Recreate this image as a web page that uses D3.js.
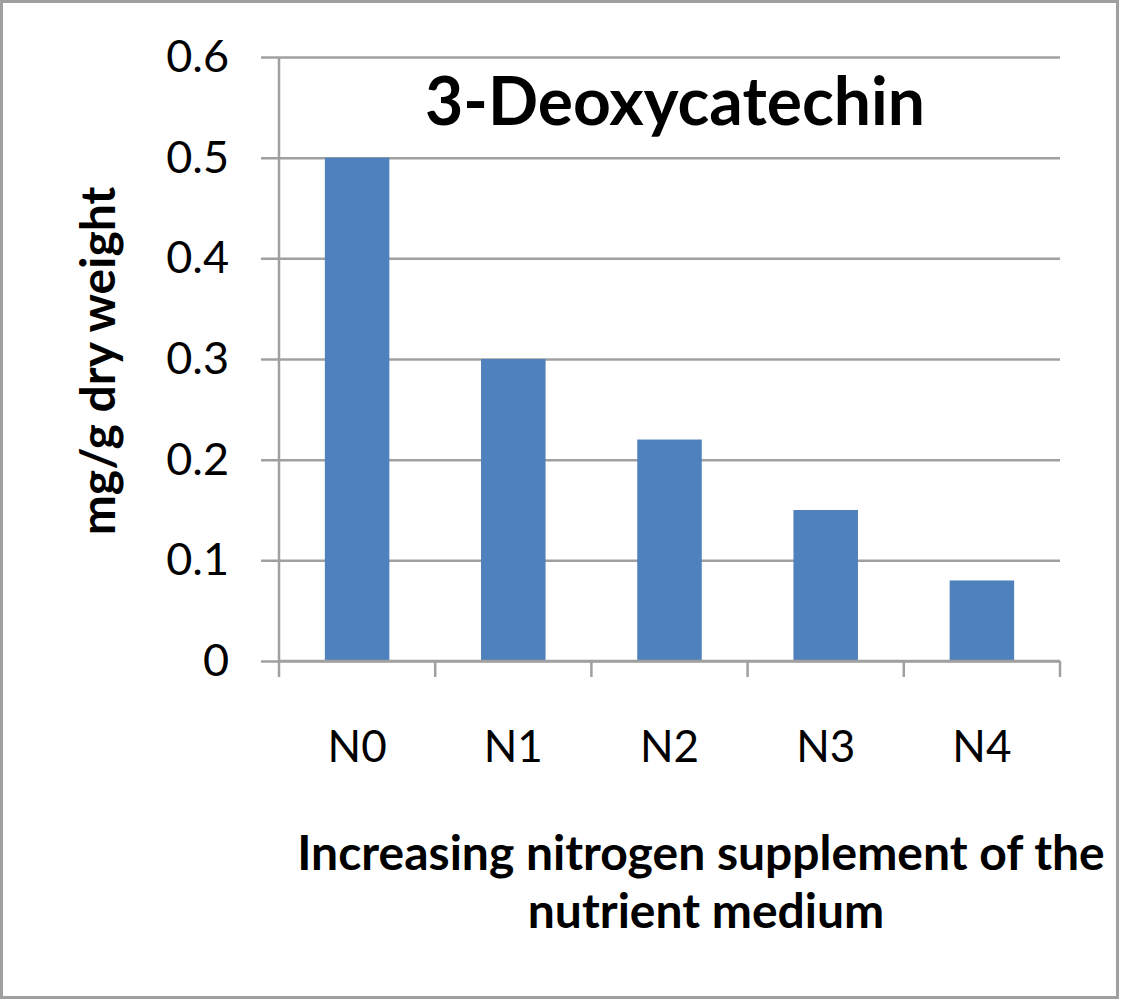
<!DOCTYPE html>
<html>
<head>
<meta charset="utf-8">
<script src="https://cdn.jsdelivr.net/npm/d3@7"></script>
<style>
  body { margin: 0; background: #fff; }
  svg { display: block; font-family: Lato, "Open Sans", sans-serif; }
</style>
</head>
<body>
<div id="chart"></div>
<script>
// chart data
const categories = ["N0", "N1", "N2", "N3", "N4"];
const values = [0.5, 0.3, 0.22, 0.15, 0.08];
const yTicks = [0, 0.1, 0.2, 0.3, 0.4, 0.5, 0.6];

const width = 1121,
  height = 1000,
  margin = { top: 57, bottom: 339, left: 279, right: 61 };

const fontFamily = "Lato, 'Open Sans', sans-serif";
const barColor = "#4f81bd",
  gridColor = "#a0a0a0";

const svg = d3.select("#chart")
  .append("svg")
  .attr("width", width)
  .attr("height", height);

// outer frame
svg.append("rect")
  .attr("x", 1.5)
  .attr("y", 1.5)
  .attr("width", width - 5)
  .attr("height", height - 4)
  .attr("fill", "#fff")
  .attr("stroke", gridColor)
  .attr("stroke-width", 3);

const xScale = d3.scaleBand()
  .domain(categories)
  .range([margin.left, width - margin.right])
  .paddingInner(0.587)
  .paddingOuter(0.2935);

const yScale = d3.scaleLinear()
  .domain([0, 0.6])
  .range([height - margin.bottom, margin.top]);

// gridlines + y axis
const yAxis = d3.axisLeft(yScale)
  .tickValues(yTicks)
  .tickSize(-(width - margin.left - margin.right))
  .tickFormat(d => d === 0 ? "0" : d3.format(".1f")(d));

const yAxisGroup = svg.append("g")
  .attr("transform", `translate(${margin.left}, 0)`)
  .call(yAxis)
  .attr("font-family", fontFamily);

yAxisGroup.select(".domain").remove();
yAxisGroup.selectAll(".tick line")
  .attr("x1", -18)
  .attr("stroke", gridColor)
  .attr("stroke-width", 2.5);
yAxisGroup.selectAll(".tick text")
  .attr("x", -50)
  .attr("font-size", 45)
  .attr("fill", "#000");

// vertical axis line
svg.append("line")
  .attr("x1", margin.left).attr("x2", margin.left)
  .attr("y1", yScale(0.6)).attr("y2", yScale(0))
  .attr("stroke", gridColor)
  .attr("stroke-width", 2.5);

// bars
svg.selectAll(".bar")
  .data(values)
  .join("rect")
  .attr("class", "bar")
  .attr("x", (d, i) => xScale(categories[i]))
  .attr("y", d => yScale(d))
  .attr("width", xScale.bandwidth())
  .attr("height", d => yScale(0) - yScale(d))
  .attr("fill", barColor);

// x axis: tick marks at category boundaries
const step = xScale.step();
const boundaries = d3.range(categories.length + 1);
svg.selectAll(".xtick")
  .data(boundaries)
  .join("line")
  .attr("class", "xtick")
  .attr("x1", d => margin.left + d * step)
  .attr("x2", d => margin.left + d * step)
  .attr("y1", yScale(0))
  .attr("y2", yScale(0) + 16)
  .attr("stroke", gridColor)
  .attr("stroke-width", 2.5);

svg.append("line")
  .attr("x1", margin.left).attr("x2", width - margin.right)
  .attr("y1", yScale(0)).attr("y2", yScale(0))
  .attr("stroke", gridColor)
  .attr("stroke-width", 2.5);

svg.selectAll(".xlabel")
  .data(categories)
  .join("text")
  .attr("class", "xlabel")
  .attr("x", d => xScale(d) + xScale.bandwidth() / 2)
  .attr("y", 762)
  .attr("text-anchor", "middle")
  .attr("font-size", 44)
  .text(d => d);

// title
svg.append("text")
  .attr("x", 675)
  .attr("y", 125)
  .attr("text-anchor", "middle")
  .attr("font-size", 66)
  .attr("font-weight", "bold")
  .text("3-Deoxycatechin");

// y axis title
svg.append("text")
  .attr("transform", `translate(115, 361) rotate(-90)`)
  .attr("text-anchor", "middle")
  .attr("font-size", 48)
  .attr("font-weight", "bold")
  .text("mg/g dry weight");

// x axis title
const xTitle = svg.append("text")
  .attr("text-anchor", "middle")
  .attr("font-size", 48)
  .attr("font-weight", "bold");
xTitle.append("tspan").attr("x", 701).attr("y", 870).text("Increasing nitrogen supplement of the");
xTitle.append("tspan").attr("x", 706).attr("y", 928).text("nutrient medium");
</script>
</body>
</html>
